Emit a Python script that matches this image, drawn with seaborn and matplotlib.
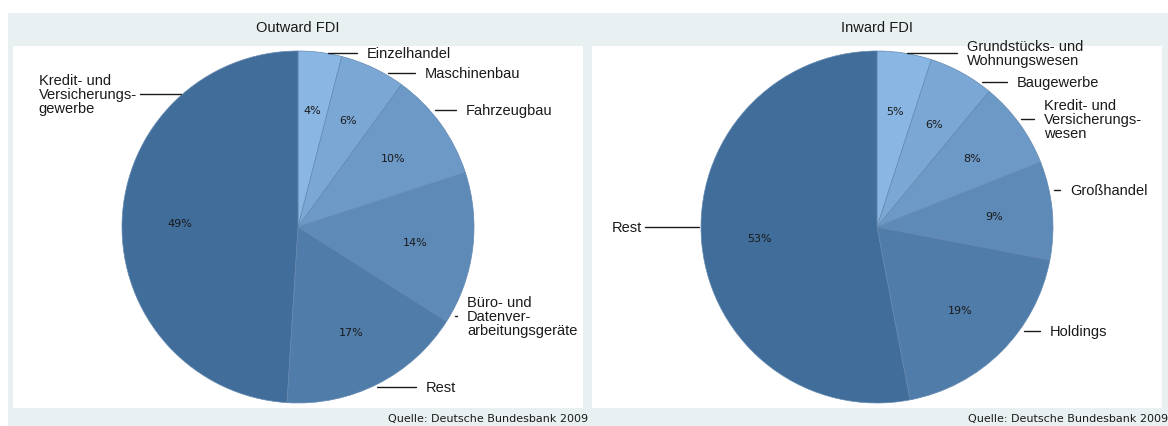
# Sektorale Struktur der Direktinvestitionen (Outward / Inward FDI)
import numpy as np
import seaborn as sns
import matplotlib.pyplot as plt
from matplotlib.patches import Rectangle

# ------------- Daten -------------
out_labels = ["Einzelhandel", "Maschinenbau", "Fahrzeugbau",
              "Büro- und\nDatenver-\narbeitungsgeräte", "Rest",
              "Kredit- und\nVersicherungs-\ngewerbe"]
out_values = [4, 6, 10, 14, 17, 49]

in_labels = ["Grundstücks- und\nWohnungswesen", "Baugewerbe",
             "Kredit- und\nVersicherungs-\nwesen", "Großhandel",
             "Holdings", "Rest"]
in_values = [5, 6, 8, 9, 19, 53]

quelle = "Quelle: Deutsche Bundesbank 2009"

# Lage der Beschriftungen (in Radius-Einheiten): x Text, y Text, Ausrichtung
out_pos = [(0.392, 0.99, "left"), (0.722, 0.875, "left"), (0.955, 0.665, "left"),
           (0.960, -0.506, "left"), (0.727, -0.909, "left"), (-0.915, 0.756, "right")]
in_pos = [(0.511, 0.99, "left"), (0.795, 0.824, "left"), (0.949, 0.614, "left"),
          (1.097, 0.210, "left"), (0.983, -0.591, "left"), (-1.335, 0.0, "right")]

# ------------- Estilo -------------
sns.set_style("white")
plt.rcParams["font.family"] = ["Liberation Sans", "DejaVu Sans"]
colores = sns.blend_palette(["#8AB6E4", "#416D9B"], 6)
bg = "#E9F0F2"

W, H = 1168, 427
fig = plt.figure(figsize=(W / 100, H / 100), dpi=100)
fig.patch.set_facecolor("white")
fig.add_artist(Rectangle((8 / W, 0), 1, (H - 14) / H, transform=fig.transFigure,
                         facecolor=bg, edgecolor="none", zorder=-10))

R = 176  # Radius in Pixel


def torta(x0, x1, cx, valores, etiquetas, pos, titulo):
    y0, y1 = 47, 409
    cy = 228
    ax = fig.add_axes([x0 / W, 1 - y1 / H, (x1 - x0) / W, (y1 - y0) / H])
    ax.pie(valores, colors=colores, startangle=90, counterclock=False,
           autopct=lambda p: f"{p:.0f}%", pctdistance=0.67,
           wedgeprops=dict(edgecolor="#6389B0", linewidth=0.5),
           textprops=dict(fontsize=8, family="DejaVu Sans", color="#1a1a1a"))
    ax.set_frame_on(True)
    ax.set_facecolor("white")
    for s in ax.spines.values():
        s.set_visible(False)
    ax.set_aspect("auto")
    ax.set_xlim((x0 - cx) / R, (x1 - cx) / R)
    ax.set_ylim((cy - y1) / R, (cy - y0) / R)
    ax.set_xticks([])
    ax.set_yticks([])

    # Beschriftungen mit Hinweislinien
    for et, (tx, ty, ha) in zip(etiquetas, pos):
        borde = np.sqrt(max(1 - ty ** 2, 0))
        if ha == "left":
            xa, xb = borde + 0.03, tx - 0.055
        else:
            xa, xb = -borde - 0.01, tx + 0.015
        ax.plot([xa, xb], [ty, ty], color="#1a1a1a", lw=1, clip_on=False)
        ax.text(tx, ty, et, ha=ha, va="center", fontsize=10.5, color="#1a1a1a",
                linespacing=1.0, multialignment="left")

    fig.text(cx / W, 1 - 28 / H, titulo, ha="center", va="center",
             fontsize=10.5, color="#1a1a1a")
    return ax


ax1 = torta(13, 583, 298, out_values, out_labels, out_pos, "Outward FDI")
ax2 = torta(592, 1162, 877, in_values, in_labels, in_pos, "Inward FDI")

fig.text(588 / W, 1 - 419 / H, quelle, ha="right", va="center", fontsize=8,
         family="DejaVu Sans", color="#1a1a1a")
fig.text(1168 / W, 1 - 419 / H, quelle, ha="right", va="center", fontsize=8,
         family="DejaVu Sans", color="#1a1a1a")

plt.savefig("out.png", dpi=100)
